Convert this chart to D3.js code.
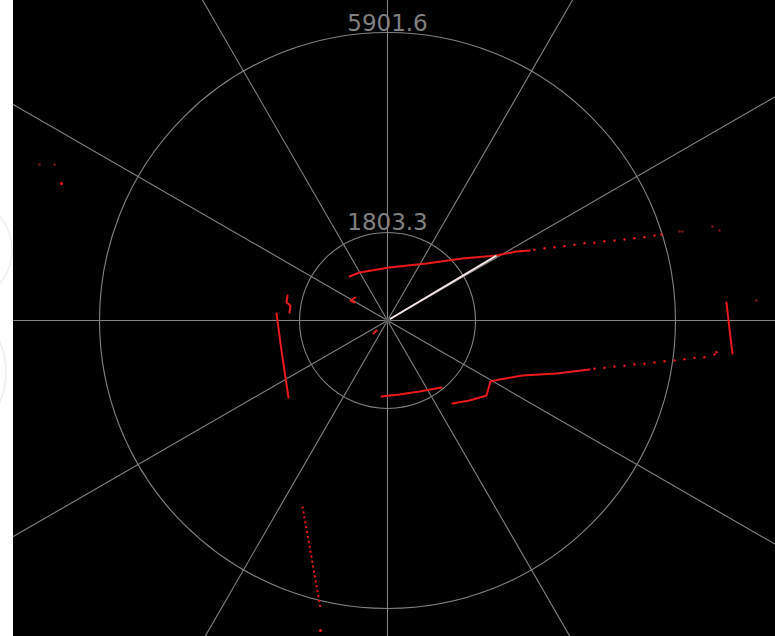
<!DOCTYPE html>
<html>
<head>
<meta charset="utf-8">
<script src="https://cdn.jsdelivr.net/npm/d3@7/dist/d3.min.js"></script>
<style>
  html, body { margin: 0; padding: 0; background: #fff; overflow: hidden; }
  svg { display: block; }
</style>
</head>
<body>
<svg id="chart"></svg>
<script>
/* global d3 */

// range rings (mm) and labels
var ringValues = [1803.3, 5901.6];
var ringLabels = ["1803.3", "5901.6"];
var spokeAngles = [0, 30, 60, 90, 120, 150, 180, 210, 240, 270, 300, 330];

// current beam
var beamAngle = 30.8, beamDist = 2600;

// scan returns, mm (x right, y forward)
var wallTop = [[-779,902],[-574,984],[41,1086],[799,1168],[1537,1270],[2233,1332],[2643,1414],[2910,1434]];
var wallTopDots = [[3012,1449],[3217,1481],[3422,1502],[3627,1522],[3832,1551],[4037,1584],[4241,1592],[4446,1625],
  [4651,1639],[4856,1660],[5061,1686],[5266,1707],[5471,1742],[5614,1762]];
var wallLeft = [[-2274,143],[-2172,-615],[-2029,-1578]];
var wallLeftStub = [[-2049,512],[-2070,369],[-1988,307],[-2008,164]];
var nearA = [[-656,471],[-758,410],[-676,369]];
var nearB = [[-287,-266],[-225,-205]];
var wallBottom = [[-123,-1557],[246,-1516],[656,-1455],[1106,-1373]];
var wallBottomRight = [[1332,-1701],[1680,-1639],[2029,-1537],[2069,-1393],[2110,-1250],[2295,-1209],
  [2766,-1127],[3463,-1086],[4139,-1004]];
var wallBottomRightDots = [[4241,-990],[4446,-969],[4651,-943],[4856,-928],[5061,-902],[5266,-887],[5471,-861],
  [5676,-834],[5881,-820],[6086,-793],[6290,-764],[6495,-752],[6700,-697],[6741,-650]];
var wallRight = [[6946,369],[7007,-164],[7069,-676]];
var wallLowerLeft = [[-1742,-3811],[-1557,-4856],[-1373,-5901]];
var strayBright = [[-6680,2807],[-1373,-6352]];
var strayFaint = [[-7131,3196],[-6823,3196],[5983,1824],[6045,1824],[6659,1926],[6803,1844],[7561,410]];

var width = 775, height = 636,
  plot = { left: 13, top: 0, right: 775, bottom: 636 },
  cx = 387.5, cy = 320.5,
  grid = "#828282",
  red = "#ea1a1a";

var svg = d3.select("#chart")
  .attr("width", width)
  .attr("height", height);

// faint background arcs in the strip on the left
svg.append("circle").attr("cx", -68).attr("cy", 372).attr("r", 74)
  .attr("fill", "none").attr("stroke", "#ececec").attr("stroke-width", 1.5);
svg.append("circle").attr("cx", -40).attr("cy", 250).attr("r", 52)
  .attr("fill", "none").attr("stroke", "#efefef").attr("stroke-width", 1.5);

svg.append("clipPath").attr("id", "plotClip")
  .append("rect")
  .attr("x", plot.left).attr("y", plot.top)
  .attr("width", plot.right - plot.left).attr("height", plot.bottom - plot.top);

svg.append("rect")
  .attr("x", plot.left).attr("y", plot.top)
  .attr("width", plot.right - plot.left).attr("height", plot.bottom - plot.top)
  .attr("fill", "#000");

var g = svg.append("g").attr("clip-path", "url(#plotClip)");

var r = d3.scaleLinear().domain([0, 5901.6]).range([0, 288]);
var px = function (d) { return cx + r(d[0]); },
  py = function (d) { return cy - r(d[1]); };
var line = d3.line().x(px).y(py);

// spokes
g.selectAll(".spoke")
  .data(spokeAngles)
  .enter().append("line")
  .attr("class", "spoke")
  .attr("x1", cx).attr("y1", cy)
  .attr("x2", function (a) { return cx + 1000 * Math.cos(a * Math.PI / 180); })
  .attr("y2", function (a) { return cy - 1000 * Math.sin(a * Math.PI / 180); })
  .attr("stroke", grid)
  .attr("stroke-width", 1.1);

// rings
g.selectAll(".ring")
  .data(ringValues)
  .enter().append("circle")
  .attr("class", "ring")
  .attr("cx", cx).attr("cy", cy)
  .attr("r", function (d) { return r(d); })
  .attr("fill", "none")
  .attr("stroke", grid)
  .attr("stroke-width", 1.1);

g.selectAll(".ring-label")
  .data(ringValues)
  .enter().append("text")
  .attr("class", "ring-label")
  .attr("x", cx)
  .attr("y", function (d) { return cy - r(d) - 2; })
  .attr("text-anchor", "middle")
  .attr("font-family", "DejaVu Sans, Verdana, sans-serif")
  .attr("font-size", 23)
  .attr("fill", "#808080")
  .text(function (d, i) { return ringLabels[i]; });

// scan walls (dense returns)
var walls = [wallTop, wallLeft, wallLeftStub, nearA, nearB, wallBottom, wallBottomRight, wallRight];
g.selectAll(".wall")
  .data(walls)
  .enter().append("path")
  .attr("class", "wall")
  .attr("d", line)
  .attr("fill", "none")
  .attr("stroke", red)
  .attr("stroke-width", 2)
  .attr("stroke-linejoin", "round")
  .attr("stroke-linecap", "round");

// lower-left wall is sparse
g.append("path")
  .datum(wallLowerLeft)
  .attr("d", line)
  .attr("fill", "none")
  .attr("stroke", red)
  .attr("stroke-width", 2)
  .attr("stroke-dasharray", "2,3");

// sparse returns
g.selectAll(".dot")
  .data(wallTopDots.concat(wallBottomRightDots))
  .enter().append("circle")
  .attr("class", "dot")
  .attr("cx", px).attr("cy", py)
  .attr("r", 1.2)
  .attr("fill", red);

g.selectAll(".stray")
  .data(strayBright)
  .enter().append("circle")
  .attr("class", "stray")
  .attr("cx", px).attr("cy", py)
  .attr("r", 1.6)
  .attr("fill", red);

g.selectAll(".faint")
  .data(strayFaint)
  .enter().append("circle")
  .attr("class", "faint")
  .attr("cx", px).attr("cy", py)
  .attr("r", 1.2)
  .attr("fill", "#7a1818");

// beam
var ba = beamAngle * Math.PI / 180;
g.append("line")
  .attr("x1", cx).attr("y1", cy)
  .attr("x2", cx + r(beamDist) * Math.cos(ba))
  .attr("y2", cy - r(beamDist) * Math.sin(ba))
  .attr("stroke", "#f6e6e6")
  .attr("stroke-width", 2);

g.append("circle")
  .attr("cx", cx).attr("cy", cy)
  .attr("r", 3)
  .attr("fill", "#5a5a5a");
</script>
</body>
</html>
